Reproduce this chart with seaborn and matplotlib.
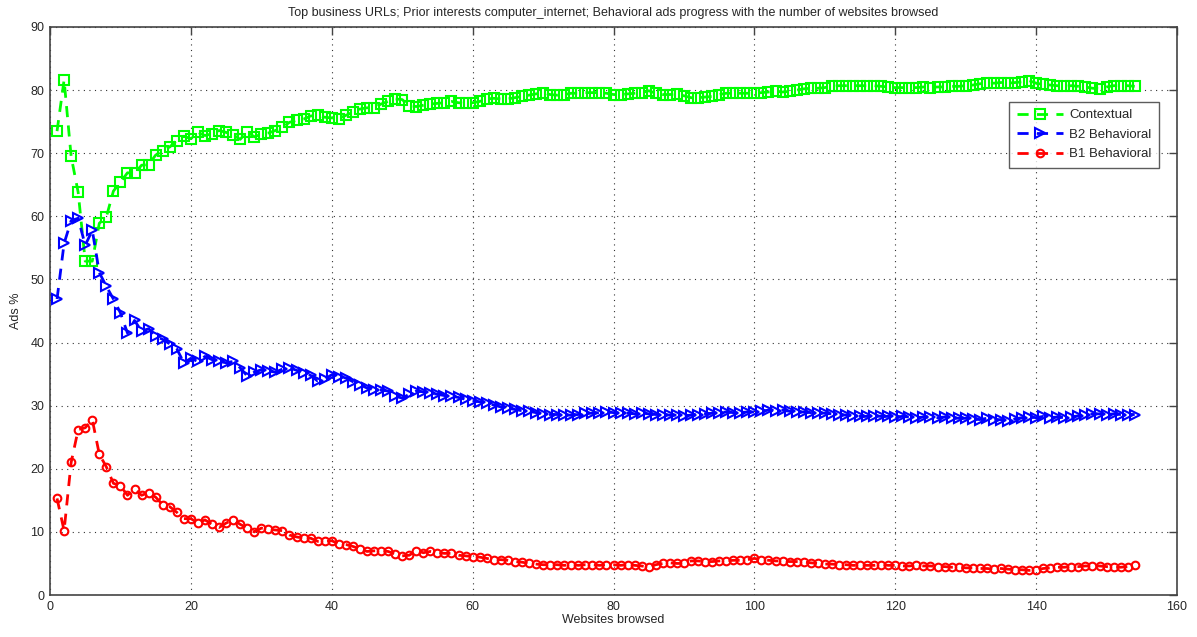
import numpy as np
import pandas as pd
import matplotlib
matplotlib.use("Agg")
import matplotlib.pyplot as plt
import seaborn as sns

# ---------------- data ----------------
websites = list(range(1, 155))

contextual = [
    73.5, 81.6, 69.5, 63.8, 52.9, 52.9, 58.9, 59.9, 64.0, 65.4,
    66.9, 66.8, 68.1, 68.2, 69.7, 70.4, 71.0, 72.0, 72.7, 72.3,
    73.3, 72.8, 73.1, 73.6, 73.3, 72.9, 72.2, 73.4, 72.6, 73.0,
    73.2, 73.6, 74.1, 74.9, 75.2, 75.4, 75.9, 76.0, 75.7, 75.6,
    75.5, 76.0, 76.5, 77.0, 77.2, 77.2, 77.8, 78.2, 78.6, 78.5,
    77.5, 77.4, 77.6, 77.8, 77.9, 78.0, 78.2, 78.0, 77.9, 78.0,
    78.2, 78.6, 78.7, 78.6, 78.6, 78.8, 79.0, 79.2, 79.4, 79.6,
    79.3, 79.2, 79.3, 79.5, 79.5, 79.6, 79.6, 79.6, 79.5, 79.3,
    79.3, 79.4, 79.5, 79.6, 79.9, 79.5, 79.3, 79.3, 79.4, 79.1,
    78.8, 78.8, 78.9, 79.0, 79.3, 79.5, 79.5, 79.5, 79.5, 79.5,
    79.6, 79.7, 79.8, 79.7, 79.8, 80.0, 80.2, 80.3, 80.3, 80.4,
    80.6, 80.7, 80.7, 80.7, 80.7, 80.7, 80.7, 80.6, 80.5, 80.4,
    80.4, 80.4, 80.4, 80.5, 80.4, 80.5, 80.5, 80.6, 80.6, 80.7,
    80.8, 81.0, 81.1, 81.1, 81.2, 81.1, 81.2, 81.3, 81.5, 81.1,
    80.9, 80.8, 80.7, 80.6, 80.7, 80.6, 80.5, 80.3, 80.2, 80.5,
    80.7, 80.7, 80.7, 80.6,
]

b2_behavioral = [
    46.9, 55.7, 59.3, 59.7, 55.4, 57.8, 51.1, 48.9, 46.9, 44.7,
    41.5, 43.5, 41.8, 42.2, 41.0, 40.5, 39.8, 39.0, 36.8, 37.5,
    37.0, 37.8, 37.3, 37.0, 36.8, 37.0, 36.0, 34.7, 35.3, 35.7,
    35.5, 35.3, 35.8, 36.0, 35.6, 35.2, 34.8, 33.9, 34.2, 34.9,
    34.5, 34.4, 33.8, 33.3, 32.8, 32.5, 32.5, 32.3, 31.5, 31.2,
    31.8, 32.3, 32.2, 32.0, 31.8, 31.6, 31.5, 31.3, 31.0, 30.8,
    30.6, 30.4, 30.1, 29.8, 29.6, 29.4, 29.2, 29.1, 28.9, 28.7,
    28.6, 28.6, 28.5, 28.5, 28.6, 28.8, 28.8, 28.9, 29.0, 28.9,
    28.8, 28.8, 28.7, 28.8, 28.7, 28.6, 28.6, 28.5, 28.5, 28.4,
    28.5, 28.6, 28.7, 28.8, 28.9, 29.0, 28.9, 28.9, 29.0, 29.0,
    29.1, 29.3, 29.2, 29.3, 29.1, 29.0, 29.0, 28.9, 28.9, 28.8,
    28.7, 28.6, 28.5, 28.4, 28.3, 28.3, 28.4, 28.3, 28.3, 28.2,
    28.3, 28.2, 28.1, 28.2, 28.2, 28.1, 28.2, 28.1, 28.0, 28.0,
    27.9, 27.8, 28.0, 27.7, 27.8, 27.6, 27.9, 28.1, 28.2, 28.1,
    28.3, 28.1, 28.2, 28.1, 28.2, 28.4, 28.6, 28.7, 28.7, 28.6,
    28.7, 28.6, 28.6, 28.6,
]

b1_behavioral = [
    15.3, 10.2, 21.0, 26.2, 26.5, 27.8, 22.3, 20.3, 17.7, 17.3,
    15.8, 16.8, 15.8, 16.2, 15.5, 14.3, 14.0, 13.1, 12.1, 12.1,
    11.4, 11.9, 11.2, 10.7, 11.4, 11.9, 11.2, 10.6, 10.0, 10.6,
    10.4, 10.3, 10.2, 9.5, 9.2, 9.0, 9.0, 8.5, 8.5, 8.6,
    8.1, 8.0, 7.7, 7.3, 6.9, 7.0, 7.0, 6.9, 6.5, 6.2,
    6.3, 7.0, 6.7, 6.9, 6.7, 6.6, 6.6, 6.3, 6.2, 6.1,
    6.0, 5.8, 5.6, 5.6, 5.5, 5.3, 5.2, 5.0, 4.9, 4.8,
    4.8, 4.8, 4.7, 4.8, 4.7, 4.8, 4.8, 4.7, 4.8, 4.8,
    4.7, 4.8, 4.7, 4.6, 4.4, 4.8, 5.0, 5.1, 5.0, 5.0,
    5.4, 5.4, 5.3, 5.3, 5.4, 5.4, 5.5, 5.5, 5.6, 5.8,
    5.6, 5.5, 5.4, 5.4, 5.3, 5.3, 5.2, 5.1, 5.0, 4.9,
    4.9, 4.8, 4.8, 4.7, 4.7, 4.7, 4.7, 4.8, 4.7, 4.7,
    4.6, 4.6, 4.7, 4.6, 4.6, 4.5, 4.5, 4.4, 4.4, 4.3,
    4.3, 4.2, 4.2, 4.1, 4.2, 4.1, 4.0, 4.0, 3.9, 4.0,
    4.2, 4.3, 4.4, 4.4, 4.5, 4.5, 4.6, 4.6, 4.6, 4.5,
    4.4, 4.4, 4.5, 4.8,
]

series_names = ["Contextual", "B2 Behavioral", "B1 Behavioral"]
x_ticks = list(range(0, 161, 20))
y_ticks = list(range(0, 91, 10))

title = ("Top business URLs; Prior interests computer_internet; "
         "Behavioral ads progress with the number of websites browsed")

# ---------------- style ----------------
sns.set_style("white")
plt.rcParams["font.family"] = ["Liberation Sans", "DejaVu Sans"]
plt.rcParams["font.size"] = 9

fig = plt.figure(figsize=(11.97, 6.37), dpi=100)
ax = fig.add_axes([50 / 1197, 1 - 595 / 637, 1127 / 1197, 568 / 637])

styles = [
    dict(color=(0, 1, 0), marker="s", markersize=6.5),
    dict(color=(0, 0, 1), marker=">", markersize=6.5),
    dict(color=(1, 0, 0), marker="o", markersize=5.5),
]
for name, vals, st in zip(series_names, [contextual, b2_behavioral, b1_behavioral], styles):
    sns.lineplot(x=websites, y=vals, ax=ax, label=name,
                 color=st["color"], linewidth=2,
                 marker=st["marker"], markersize=st["markersize"],
                 markerfacecolor="none", markeredgecolor=st["color"],
                 markeredgewidth=1.5, dashes=False)
for line in ax.get_lines():
    line.set_linestyle((0, (4, 3)))

ax.set_xlim(0, 160)
ax.set_ylim(0, 90)
ax.set_xticks(x_ticks)
ax.set_yticks(y_ticks)
ax.grid(True, linestyle=(0, (1, 4)), color="#333333", linewidth=0.8)
ax.tick_params(direction="in", top=True, right=True, length=6, width=1,
               color="#444444", labelsize=9, pad=4)
for sp in ax.spines.values():
    sp.set_color("#444444")
    sp.set_linewidth(1.2)

ax.set_xlabel("Websites browsed", fontsize=9, labelpad=1)
ax.set_ylabel("Ads %", fontsize=9, labelpad=6)
ax.set_title(title, fontsize=9, pad=8)

leg = ax.legend(loc="upper right", bbox_to_anchor=(0.984, 0.868),
                frameon=True, fancybox=False, edgecolor="#333333",
                fontsize=9.5, handlelength=3.5, borderpad=0.55,
                labelspacing=0.55, handletextpad=0.5, borderaxespad=0)
leg.get_frame().set_linewidth(1.0)
for h in leg.get_lines():
    h.set_linestyle((0, (4, 3)))

fig.savefig("out.png", dpi=100)
